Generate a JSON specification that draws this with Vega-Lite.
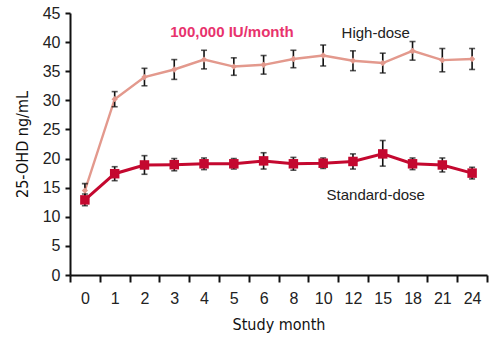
{
  "$schema": "https://vega.github.io/schema/vega-lite/v6.json",
  "width": 417,
  "height": 262,
  "autosize": {"type": "none"},
  "padding": {"left": 70, "top": 13, "right": 12, "bottom": 70},
  "background": "white",
  "config": {
    "view": {"stroke": null},
    "axis": {
      "labelFont": "Liberation Sans",
      "labelFontSize": 16,
      "labelColor": "#222222",
      "labelOverlap": false,
      "titleFont": "DejaVu Sans Condensed, Liberation Sans",
      "titleFontSize": 16,
      "titleFontWeight": "normal",
      "titleColor": "#111111",
      "domainColor": "#111111",
      "domainWidth": 2,
      "tickColor": "#111111",
      "tickWidth": 2,
      "grid": false
    },
    "axisY": {"tickSize": 5, "labelPadding": 5, "titlePadding": 12}
  },
  "datasets": {
    "d": [
      {"month": "0", "group": "High-dose", "mean": 14.5, "lo": 13.3, "hi": 15.7},
      {"month": "1", "group": "High-dose", "mean": 30.2, "lo": 28.9, "hi": 31.5},
      {"month": "2", "group": "High-dose", "mean": 34.0, "lo": 32.5, "hi": 35.5},
      {"month": "3", "group": "High-dose", "mean": 35.3, "lo": 33.6, "hi": 37.0},
      {"month": "4", "group": "High-dose", "mean": 37.0, "lo": 35.4, "hi": 38.6},
      {"month": "5", "group": "High-dose", "mean": 35.8, "lo": 34.3, "hi": 37.3},
      {"month": "6", "group": "High-dose", "mean": 36.1, "lo": 34.5, "hi": 37.7},
      {"month": "8", "group": "High-dose", "mean": 37.1, "lo": 35.6, "hi": 38.6},
      {"month": "10", "group": "High-dose", "mean": 37.7, "lo": 35.9, "hi": 39.5},
      {"month": "12", "group": "High-dose", "mean": 36.8, "lo": 35.1, "hi": 38.5},
      {"month": "15", "group": "High-dose", "mean": 36.4, "lo": 34.7, "hi": 38.1},
      {"month": "18", "group": "High-dose", "mean": 38.5, "lo": 36.9, "hi": 40.1},
      {"month": "21", "group": "High-dose", "mean": 36.9, "lo": 34.9, "hi": 38.9},
      {"month": "24", "group": "High-dose", "mean": 37.1, "lo": 35.3, "hi": 38.9},
      {"month": "0", "group": "Standard-dose", "mean": 12.9, "lo": 11.9, "hi": 13.9},
      {"month": "1", "group": "Standard-dose", "mean": 17.4, "lo": 16.2, "hi": 18.6},
      {"month": "2", "group": "Standard-dose", "mean": 18.9, "lo": 17.3, "hi": 20.5},
      {"month": "3", "group": "Standard-dose", "mean": 18.95, "lo": 17.9, "hi": 20.0},
      {"month": "4", "group": "Standard-dose", "mean": 19.1, "lo": 18.1, "hi": 20.1},
      {"month": "5", "group": "Standard-dose", "mean": 19.1, "lo": 18.2, "hi": 20.0},
      {"month": "6", "group": "Standard-dose", "mean": 19.6, "lo": 18.2, "hi": 21.0},
      {"month": "8", "group": "Standard-dose", "mean": 19.1, "lo": 18.0, "hi": 20.2},
      {"month": "10", "group": "Standard-dose", "mean": 19.2, "lo": 18.3, "hi": 20.1},
      {"month": "12", "group": "Standard-dose", "mean": 19.5, "lo": 18.2, "hi": 20.8},
      {"month": "15", "group": "Standard-dose", "mean": 20.8, "lo": 18.7, "hi": 23.1},
      {"month": "18", "group": "Standard-dose", "mean": 19.1, "lo": 18.1, "hi": 20.1},
      {"month": "21", "group": "Standard-dose", "mean": 18.9, "lo": 17.7, "hi": 20.1},
      {"month": "24", "group": "Standard-dose", "mean": 17.5, "lo": 16.5, "hi": 18.5}
    ]
  },
  "encoding": {
    "x": {
      "field": "month",
      "type": "ordinal",
      "scale": {"type": "band", "paddingInner": 0, "paddingOuter": 0,
        "domain": ["0", "1", "2", "3", "4", "5", "6", "8", "10", "12", "15", "18", "21", "24"]},
      "axis": {"title": "Study month", "labelAngle": 0, "tickBand": "extent", "tickSize": 7, "labelPadding": 8, "titlePadding": 10}
    }
  },
  "layer": [
    {
      "data": {"name": "d"},
      "mark": {"type": "line"},
      "encoding": {
        "y": {"field": "mean", "type": "quantitative", "scale": {"domain": [0, 45]},
          "axis": {"title": "25-OHD ng/mL", "values": [0, 5, 10, 15, 20, 25, 30, 35, 40, 45]}},
        "color": {"field": "group", "type": "nominal", "scale": {"domain": ["High-dose", "Standard-dose"], "range": ["#E3998D", "#C4082F"]}, "legend": null},
        "strokeWidth": {"field": "group", "type": "nominal", "scale": {"domain": ["High-dose", "Standard-dose"], "range": [2.4, 3]}, "legend": null}
      }
    },
    {
      "data": {"name": "d"},
      "mark": {"type": "errorbar", "color": "#111111", "thickness": 1.6, "ticks": {"size": 6, "thickness": 1.6, "color": "#111111"}},
      "encoding": {
        "y": {"field": "lo", "type": "quantitative", "title": "25-OHD ng/mL",
          "axis": {"title": "25-OHD ng/mL", "values": [0, 5, 10, 15, 20, 25, 30, 35, 40, 45]}},
        "y2": {"field": "hi"},
        "detail": {"field": "group"}
      }
    },
    {
      "data": {"name": "d"},
      "mark": {"type": "point", "filled": true, "opacity": 1},
      "encoding": {
        "y": {"field": "mean", "type": "quantitative",
          "axis": {"title": "25-OHD ng/mL", "values": [0, 5, 10, 15, 20, 25, 30, 35, 40, 45]}},
        "color": {"field": "group", "type": "nominal", "legend": null},
        "shape": {"field": "group", "type": "nominal", "scale": {"domain": ["High-dose", "Standard-dose"], "range": ["diamond", "square"]}, "legend": null},
        "size": {"field": "group", "type": "nominal", "scale": {"domain": ["High-dose", "Standard-dose"], "range": [40, 90]}, "legend": null}
      }
    },
    {
      "data": {"values": [{"label": "100,000 IU/month", "month": "3", "y": 41.7}]},
      "mark": {"type": "text", "align": "left", "baseline": "middle", "dx": -4, "font": "Liberation Sans", "fontSize": 15, "fontWeight": "bold", "color": "#E8336D"},
      "encoding": {"y": {"field": "y", "type": "quantitative",
          "axis": {"title": "25-OHD ng/mL", "values": [0, 5, 10, 15, 20, 25, 30, 35, 40, 45]}}, "text": {"field": "label"}}
    },
    {
      "data": {"values": [{"label": "High-dose", "month": "15", "y": 41.6}, {"label": "Standard-dose", "month": "15", "y": 13.7}]},
      "mark": {"type": "text", "align": "center", "baseline": "middle", "dx": -7, "font": "Liberation Sans", "fontSize": 15, "color": "#222222"},
      "encoding": {"y": {"field": "y", "type": "quantitative",
          "axis": {"title": "25-OHD ng/mL", "values": [0, 5, 10, 15, 20, 25, 30, 35, 40, 45]}}, "text": {"field": "label"}}
    }
  ]
}
